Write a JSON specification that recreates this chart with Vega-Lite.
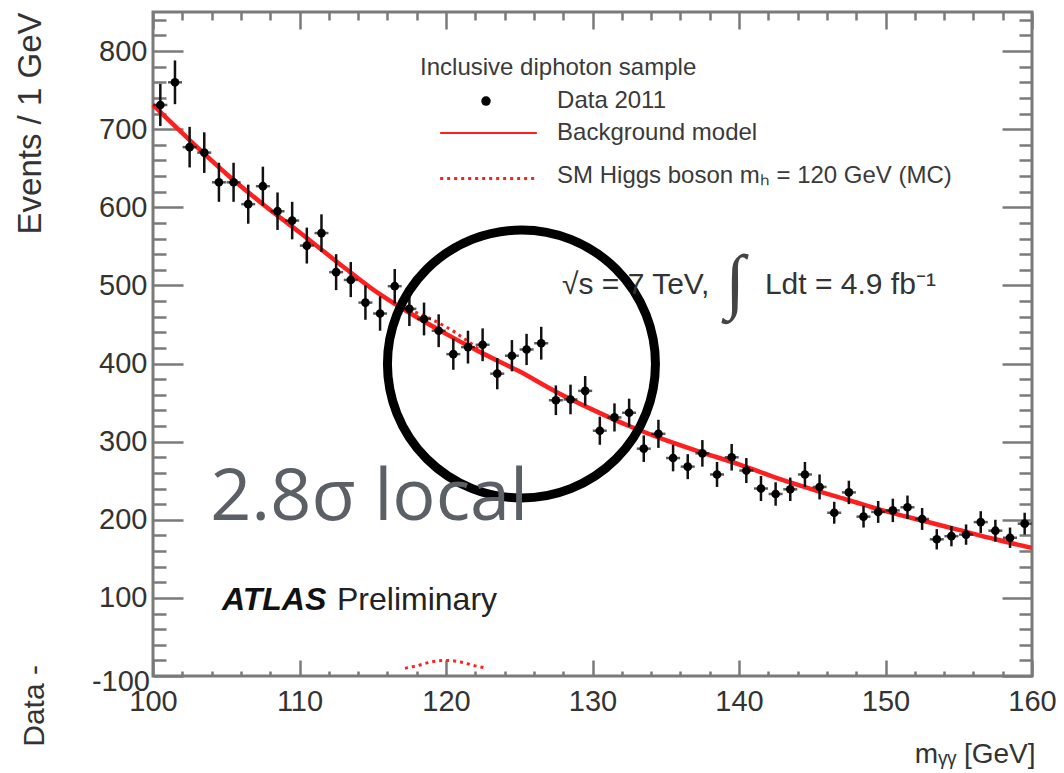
{
  "$schema": "https://vega.github.io/schema/vega-lite/v6.json",
  "width": 879,
  "height": 664,
  "autosize": {"type": "none"},
  "padding": {"left": 153, "top": 12, "right": 32, "bottom": 97},
  "background": "white",
  "config": {
    "view": {"stroke": "#7a7a7a", "strokeWidth": 3},
    "font": "Liberation Sans",
    "axis": {"grid": false, "domain": false, "labelFont": "Liberation Sans", "titleFont": "Liberation Sans", "labelColor": "#333", "titleColor": "#333", "tickColor": "#7a7a7a", "tickWidth": 2.5, "labelFlush": false, "labelOverlap": false, "labelBound": false, "tickCount": 200}
  },
  "datasets": {
    "pts": [
      {"m": 100.5, "ev": 731, "lo": 704, "hi": 758},
      {"m": 101.5, "ev": 760, "lo": 732, "hi": 788},
      {"m": 102.5, "ev": 677, "lo": 651, "hi": 703},
      {"m": 103.5, "ev": 670, "lo": 644, "hi": 696},
      {"m": 104.5, "ev": 632, "lo": 607, "hi": 657},
      {"m": 105.5, "ev": 632, "lo": 607, "hi": 657},
      {"m": 106.5, "ev": 604, "lo": 579, "hi": 629},
      {"m": 107.5, "ev": 627, "lo": 602, "hi": 652},
      {"m": 108.5, "ev": 595, "lo": 571, "hi": 619},
      {"m": 109.5, "ev": 583, "lo": 559, "hi": 607},
      {"m": 110.5, "ev": 551, "lo": 528, "hi": 574},
      {"m": 111.5, "ev": 567, "lo": 543, "hi": 591},
      {"m": 112.5, "ev": 517, "lo": 494, "hi": 540},
      {"m": 113.5, "ev": 507, "lo": 485, "hi": 530},
      {"m": 114.5, "ev": 478, "lo": 456, "hi": 500},
      {"m": 115.5, "ev": 464, "lo": 442, "hi": 486},
      {"m": 116.5, "ev": 499, "lo": 477, "hi": 521},
      {"m": 117.5, "ev": 470, "lo": 448, "hi": 492},
      {"m": 118.5, "ev": 457, "lo": 436, "hi": 478},
      {"m": 119.5, "ev": 442, "lo": 421, "hi": 463},
      {"m": 120.5, "ev": 412, "lo": 392, "hi": 432},
      {"m": 121.5, "ev": 421, "lo": 400, "hi": 442},
      {"m": 122.5, "ev": 424, "lo": 403, "hi": 445},
      {"m": 123.5, "ev": 387, "lo": 367, "hi": 407},
      {"m": 124.5, "ev": 410, "lo": 390, "hi": 430},
      {"m": 125.5, "ev": 418, "lo": 398, "hi": 438},
      {"m": 126.5, "ev": 426, "lo": 405, "hi": 447},
      {"m": 127.5, "ev": 353, "lo": 334, "hi": 372},
      {"m": 128.5, "ev": 354, "lo": 335, "hi": 373},
      {"m": 129.5, "ev": 365, "lo": 346, "hi": 384},
      {"m": 130.5, "ev": 314, "lo": 296, "hi": 332},
      {"m": 131.5, "ev": 331, "lo": 313, "hi": 349},
      {"m": 132.5, "ev": 337, "lo": 319, "hi": 355},
      {"m": 133.5, "ev": 291, "lo": 274, "hi": 308},
      {"m": 134.5, "ev": 310, "lo": 292, "hi": 328},
      {"m": 135.5, "ev": 279, "lo": 262, "hi": 296},
      {"m": 136.5, "ev": 268, "lo": 252, "hi": 284},
      {"m": 137.5, "ev": 285, "lo": 268, "hi": 302},
      {"m": 138.5, "ev": 258, "lo": 242, "hi": 274},
      {"m": 139.5, "ev": 280, "lo": 263, "hi": 297},
      {"m": 140.5, "ev": 263, "lo": 247, "hi": 279},
      {"m": 141.5, "ev": 240, "lo": 224, "hi": 256},
      {"m": 142.5, "ev": 233, "lo": 218, "hi": 248},
      {"m": 143.5, "ev": 239, "lo": 224, "hi": 254},
      {"m": 144.5, "ev": 258, "lo": 242, "hi": 274},
      {"m": 145.5, "ev": 242, "lo": 226, "hi": 258},
      {"m": 146.5, "ev": 209, "lo": 195, "hi": 223},
      {"m": 147.5, "ev": 235, "lo": 220, "hi": 250},
      {"m": 148.5, "ev": 204, "lo": 190, "hi": 218},
      {"m": 149.5, "ev": 210, "lo": 196, "hi": 224},
      {"m": 150.5, "ev": 212, "lo": 197, "hi": 227},
      {"m": 151.5, "ev": 216, "lo": 201, "hi": 231},
      {"m": 152.5, "ev": 201, "lo": 187, "hi": 215},
      {"m": 153.5, "ev": 175, "lo": 162, "hi": 188},
      {"m": 154.5, "ev": 179, "lo": 166, "hi": 192},
      {"m": 155.5, "ev": 181, "lo": 168, "hi": 194},
      {"m": 156.5, "ev": 197, "lo": 183, "hi": 211},
      {"m": 157.5, "ev": 186, "lo": 172, "hi": 200},
      {"m": 158.5, "ev": 177, "lo": 164, "hi": 190},
      {"m": 159.5, "ev": 195, "lo": 181, "hi": 209}
    ],
    "bkg": [
      {"m": 100, "ev": 731}, {"m": 102.5, "ev": 686}, {"m": 105, "ev": 643}, {"m": 107.5, "ev": 604},
      {"m": 110, "ev": 568}, {"m": 112.5, "ev": 531}, {"m": 115, "ev": 495}, {"m": 117.5, "ev": 465},
      {"m": 120, "ev": 438}, {"m": 122.5, "ev": 413}, {"m": 125, "ev": 390}, {"m": 127.5, "ev": 364},
      {"m": 130, "ev": 341}, {"m": 132.5, "ev": 320}, {"m": 135, "ev": 302}, {"m": 137.5, "ev": 286},
      {"m": 140, "ev": 271}, {"m": 142.5, "ev": 254}, {"m": 145, "ev": 239}, {"m": 147.5, "ev": 225},
      {"m": 150, "ev": 211}, {"m": 152.5, "ev": 199}, {"m": 155, "ev": 187}, {"m": 157.5, "ev": 175},
      {"m": 160, "ev": 164}
    ],
    "sig": [
      {"m": 117, "ev": 472}, {"m": 117.5, "ev": 468.5}, {"m": 118, "ev": 465}, {"m": 118.5, "ev": 461},
      {"m": 119, "ev": 457}, {"m": 119.5, "ev": 452}, {"m": 120, "ev": 447}, {"m": 120.5, "ev": 441.5},
      {"m": 121, "ev": 435}, {"m": 121.5, "ev": 428.5}, {"m": 122, "ev": 421.5}, {"m": 122.5, "ev": 414.5},
      {"m": 123, "ev": 408.5}
    ],
    "sigLow": [
      {"m": 117.2, "ev": 10}, {"m": 118, "ev": 13}, {"m": 119, "ev": 18}, {"m": 120, "ev": 20},
      {"m": 121, "ev": 18}, {"m": 122, "ev": 13}, {"m": 122.8, "ev": 10}
    ],
    "legLine": [{"m": 119.6, "ev": 695}, {"m": 126.2, "ev": 695}],
    "legDot": [{"m": 119.6, "ev": 637}, {"m": 126.2, "ev": 637}]
  },
  "layer": [
    {
      "layer": [
        {
          "data": {"name": "bkg"},
          "mark": {"type": "line", "color": "#ff1f1f", "strokeWidth": 4.5, "interpolate": "monotone"},
          "encoding": {
            "x": {"field": "m", "type": "quantitative", "scale": {"domain": [100, 160], "nice": false, "zero": false},
              "axis": {"orient": "bottom", "title": "mᵧᵧ [GeV]", "titleFontSize": 28, "titleFontWeight": "normal", "titleAlign": "right", "titleBaseline": "alphabetic", "titleX": 882, "titleY": 86,
                "values": [100,102,104,106,108,110,112,114,116,118,120,122,124,126,128,130,132,134,136,138,140,142,144,146,148,150,152,154,156,158,160],
                "tickCount": 200, "format": "d",
                "labelExpr": "datum.value % 10 === 0 ? datum.label : ''",
                "labelOverlap": false, "labelFlush": false, "labelBound": false,
                "labelFontSize": 29,
                "tickSize": {"condition": {"test": "datum.value % 10 === 0", "value": -16}, "value": -5},
                "labelPadding": 27}},
            "y": {"field": "ev", "type": "quantitative", "scale": {"domain": [0, 850], "nice": false, "zero": false},
              "axis": {"orient": "left", "title": "Events / 1 GeV", "titleFontSize": 33, "titleFontWeight": "normal", "titleAngle": 270, "titleAlign": "right", "titleBaseline": "middle", "titleX": -123, "titleY": 0,
                "values": [0,20,40,60,80,100,120,140,160,180,200,220,240,260,280,300,320,340,360,380,400,420,440,460,480,500,520,540,560,580,600,620,640,660,680,700,720,740,760,780,800,820,840],
                "tickCount": 200, "format": "d",
                "labelExpr": "datum.value % 100 === 0 && datum.value > 0 ? datum.label : ''",
                "labelOverlap": false, "labelFlush": false, "labelBound": false,
                "labelFontSize": 29,
                "tickSize": {"condition": {"test": "datum.value % 100 === 0", "value": -30}, "value": -13},
                "labelPadding": 36}}
          }
        },
        {
          "data": {"name": "sig"},
          "mark": {"type": "line", "color": "#ff1f1f", "strokeWidth": 3, "strokeDash": [3, 4], "interpolate": "monotone"},
          "encoding": {"x": {"field": "m", "type": "quantitative"}, "y": {"field": "ev", "type": "quantitative"}}
        },
        {
          "data": {"name": "sigLow"},
          "mark": {"type": "line", "color": "#ff1f1f", "strokeWidth": 3, "strokeDash": [3, 4], "interpolate": "monotone", "clip": false},
          "encoding": {"x": {"field": "m", "type": "quantitative"}, "y": {"field": "ev", "type": "quantitative"}}
        },
        {
          "data": {"name": "pts"},
          "mark": {"type": "rule", "color": "#111", "strokeWidth": 2.5},
          "encoding": {"x": {"field": "m", "type": "quantitative"}, "y": {"field": "lo", "type": "quantitative"}, "y2": {"field": "hi"}}
        },
        {
          "data": {"name": "pts"},
          "mark": {"type": "tick", "orient": "horizontal", "color": "#111", "size": 14, "thickness": 2.5},
          "encoding": {"x": {"field": "m", "type": "quantitative"}, "y": {"field": "ev", "type": "quantitative"}}
        },
        {
          "data": {"name": "pts"},
          "mark": {"type": "point", "shape": "circle", "filled": true, "color": "#000", "size": 75, "opacity": 1},
          "encoding": {"x": {"field": "m", "type": "quantitative"}, "y": {"field": "ev", "type": "quantitative"}}
        },
        {
          "data": {"values": [{"m": 125.15, "ev": 399.4}]},
          "mark": {"type": "point", "shape": "circle", "filled": false, "stroke": "#000", "strokeWidth": 9, "size": 71824, "opacity": 1},
          "encoding": {"x": {"field": "m", "type": "quantitative"}, "y": {"field": "ev", "type": "quantitative"}}
        },
        {
          "data": {"values": [{"m": 122.73, "ev": 736}]},
          "mark": {"type": "point", "shape": "circle", "filled": true, "color": "#000", "size": 90, "opacity": 1},
          "encoding": {"x": {"field": "m", "type": "quantitative"}, "y": {"field": "ev", "type": "quantitative"}}
        },
        {
          "data": {"name": "legLine"},
          "mark": {"type": "line", "color": "#ff1f1f", "strokeWidth": 2},
          "encoding": {"x": {"field": "m", "type": "quantitative"}, "y": {"field": "ev", "type": "quantitative"}}
        },
        {
          "data": {"name": "legDot"},
          "mark": {"type": "line", "color": "#ff1f1f", "strokeWidth": 3, "strokeDash": [3, 4]},
          "encoding": {"x": {"field": "m", "type": "quantitative"}, "y": {"field": "ev", "type": "quantitative"}}
        },
        {
          "data": {"values": [
            {"m": 118.23, "ev": 778, "t": "Inclusive diphoton sample"},
            {"m": 127.58, "ev": 736, "t": "Data 2011"},
            {"m": 127.58, "ev": 695, "t": "Background model"},
            {"m": 127.58, "ev": 640, "t": "SM Higgs boson mₕ = 120 GeV (MC)"}
          ]},
          "mark": {"type": "text", "align": "left", "baseline": "middle", "fontSize": 24, "color": "#3a3a3a", "font": "Liberation Sans"},
          "encoding": {"x": {"field": "m", "type": "quantitative"}, "y": {"field": "ev", "type": "quantitative"}, "text": {"field": "t"}}
        },
        {
          "data": {"values": [
            {"m": 127.92, "ev": 500, "t": "√s = 7 TeV,"},
            {"m": 141.77, "ev": 500, "t": "Ldt = 4.9 fb⁻¹"}
          ]},
          "mark": {"type": "text", "align": "left", "baseline": "middle", "fontSize": 30, "color": "#333", "font": "Liberation Sans"},
          "encoding": {"x": {"field": "m", "type": "quantitative"}, "y": {"field": "ev", "type": "quantitative"}, "text": {"field": "t"}}
        },
        {
          "data": {"values": [{"m": 139.73, "ev": 503, "t": "∫"}]},
          "mark": {"type": "text", "align": "center", "baseline": "middle", "fontSize": 72, "fontWeight": "normal", "color": "#444", "font": "Liberation Serif"},
          "encoding": {"x": {"field": "m", "type": "quantitative"}, "y": {"field": "ev", "type": "quantitative"}, "text": {"field": "t"}}
        },
        {
          "data": {"values": [{"m": 103.9, "ev": 200, "t": "2.8σ local"}]},
          "mark": {"type": "text", "align": "left", "baseline": "alphabetic", "fontSize": 72, "color": "#5b5f66", "font": "Open Sans"},
          "encoding": {"x": {"field": "m", "type": "quantitative"}, "y": {"field": "ev", "type": "quantitative"}, "text": {"field": "t"}}
        },
        {
          "data": {"values": [{"m": 104.71, "ev": 84.5, "t": "ATLAS"}]},
          "mark": {"type": "text", "align": "left", "baseline": "alphabetic", "fontSize": 32, "fontWeight": "bold", "fontStyle": "italic", "color": "#111", "font": "Liberation Sans"},
          "encoding": {"x": {"field": "m", "type": "quantitative"}, "y": {"field": "ev", "type": "quantitative"}, "text": {"field": "t"}}
        },
        {
          "data": {"values": [{"m": 112.56, "ev": 84.5, "t": "Preliminary"}]},
          "mark": {"type": "text", "align": "left", "baseline": "alphabetic", "fontSize": 32, "color": "#222", "font": "Liberation Sans"},
          "encoding": {"x": {"field": "m", "type": "quantitative"}, "y": {"field": "ev", "type": "quantitative"}, "text": {"field": "t"}}
        },
        {
          "data": {"values": [{"m": 100, "ev": -8, "t": "-100"}]},
          "mark": {"type": "text", "align": "right", "baseline": "middle", "dx": -3, "fontSize": 29, "color": "#333", "font": "Liberation Sans", "clip": false},
          "encoding": {"x": {"field": "m", "type": "quantitative"}, "y": {"field": "ev", "type": "quantitative"}, "text": {"field": "t"}}
        },
        {
          "data": {"values": [{"m": 91.95, "ev": 14, "t": "Data -"}]},
          "mark": {"type": "text", "align": "right", "baseline": "middle", "angle": 270, "fontSize": 30, "color": "#333", "font": "Liberation Sans", "clip": false},
          "encoding": {"x": {"field": "m", "type": "quantitative"}, "y": {"field": "ev", "type": "quantitative"}, "text": {"field": "t"}}
        }
      ]
    },
    {
      "data": {"values": [{"m": 130, "ev": 400}]},
      "mark": {"type": "point", "opacity": 0},
      "encoding": {
        "x": {"field": "m", "type": "quantitative", "scale": {"domain": [100, 160], "nice": false, "zero": false},
          "axis": {"orient": "top", "title": null, "labels": false, "tickCount": 200,
            "values": [100,102,104,106,108,110,112,114,116,118,120,122,124,126,128,130,132,134,136,138,140,142,144,146,148,150,152,154,156,158,160],
            "tickSize": {"condition": {"test": "datum.value % 10 === 0", "value": -17}, "value": -8}}},
        "y": {"field": "ev", "type": "quantitative", "scale": {"domain": [0, 850], "nice": false, "zero": false},
          "axis": {"orient": "right", "title": null, "labels": false, "tickCount": 200,
            "values": [0,20,40,60,80,100,120,140,160,180,200,220,240,260,280,300,320,340,360,380,400,420,440,460,480,500,520,540,560,580,600,620,640,660,680,700,720,740,760,780,800,820,840],
            "tickSize": {"condition": {"test": "datum.value % 100 === 0", "value": -30}, "value": -13}}}
      }
    }
  ],
  "resolve": {"scale": {"x": "independent", "y": "independent"}}
}
